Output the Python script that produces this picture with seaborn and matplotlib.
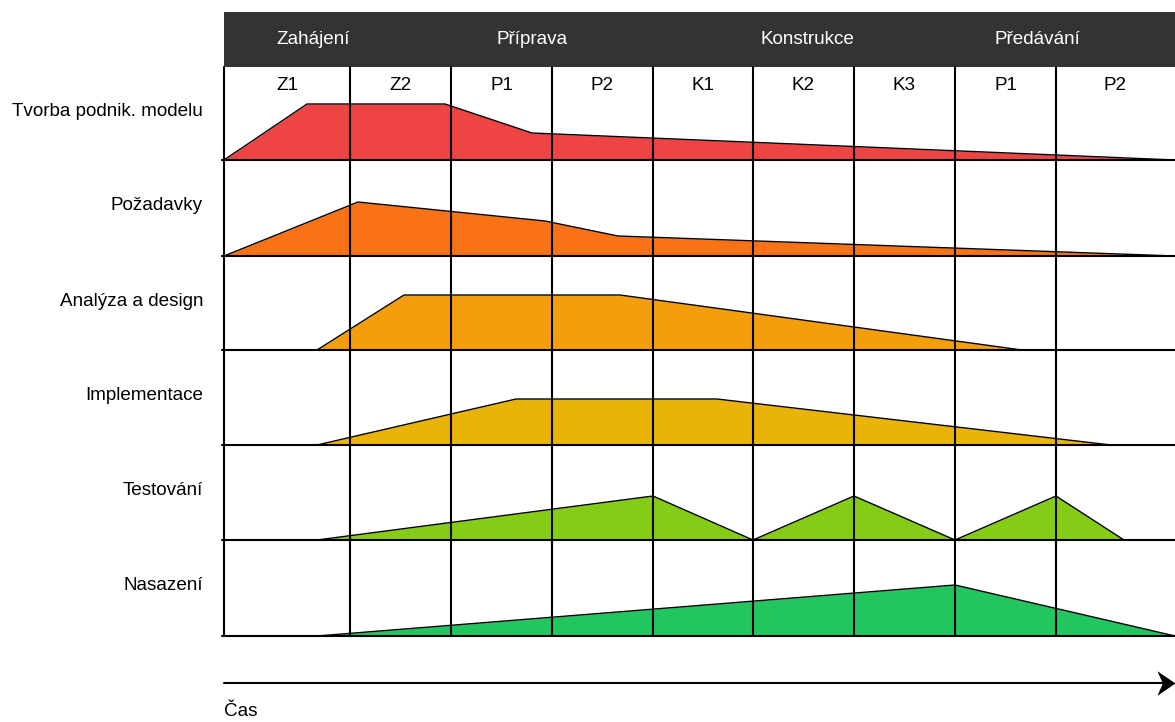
import matplotlib
matplotlib.use("Agg")
import matplotlib.pyplot as plt
from matplotlib.path import Path
import numpy as np
import pandas as pd
import seaborn as sns

# phases in the dark header bar and their label positions
phases = ["Zahájení", "Příprava", "Konstrukce", "Předávání"]
phase_x = [313, 532, 807, 1037]

# iterations (columns) and column edges
iterations = ["Z1", "Z2", "P1", "P2", "K1", "K2", "K3", "P1", "P2"]
col_edges = [224, 350, 451, 552, 653, 753, 854, 955, 1056, 1175]

# disciplines (rows) and row boundaries
disciplines = ["Tvorba podnik. modelu", "Požadavky", "Analýza a design",
               "Implementace", "Testování", "Nasazení"]
row_edges = [67, 160, 256, 350, 445, 540, 636]
colors = ["#EF4444", "#F97316", "#F59E0B", "#EAB308", "#84CC16", "#22C55E"]

# effort profile for every discipline: time points and height above the row baseline
model_t = [224, 307, 445, 532, 1175]
model_h = [0, 56, 56, 27, 0]
req_t = [224, 358, 545, 618, 1175]
req_h = [0, 54, 35, 20, 0]
design_t = [224, 317, 404, 620, 1022]
design_h = [0, 0, 55, 55, 0]
impl_t = [224, 317, 516, 717, 1111]
impl_h = [0, 0, 46, 46, 0]
test_t = [224, 317, 653, 753, 854, 955, 1056, 1124]
test_h = [0, 0, 44, 0, 44, 0, 44, 0]
deploy_t = [224, 317, 955, 1175]
deploy_h = [0, 0, 51, 0]

profiles = [(model_t, model_h), (req_t, req_h), (design_t, design_h),
            (impl_t, impl_h), (test_t, test_h), (deploy_t, deploy_h)]

sns.set_theme(style="white")
plt.rcParams["font.family"] = ["Liberation Sans", "DejaVu Sans"]
fs = 13.6

fig = plt.figure(figsize=(11.75, 7.22), dpi=100)
ax = fig.add_axes([0, 0, 1, 1])
ax.set_xlim(0, 1175)
ax.set_ylim(722, 0)
ax.axis("off")

# header bar
ax.fill_between([col_edges[0], col_edges[-1]], 12, row_edges[0], color="#333333", lw=0)
for name, x in zip(phases, phase_x):
    ax.text(x, 40, name, color="white", fontsize=fs, ha="center", va="center")

for i, name in enumerate(iterations):
    ax.text((col_edges[i] + col_edges[i + 1]) / 2, 86, name, fontsize=fs,
            ha="center", va="center", color="black")

# humps
for i, (t, h) in enumerate(profiles):
    base = row_edges[i + 1]
    y = [base - v for v in h]
    ax.fill_between(t, y, base, color=colors[i], lw=0, zorder=2)
    df = pd.DataFrame({"t": t, "y": y})
    sns.lineplot(data=df, x="t", y="y", ax=ax, color="black", lw=1.0,
                 sort=False, estimator=None, zorder=3)
    ax.text(203, (row_edges[i] + row_edges[i + 1]) / 2 - 2, disciplines[i],
            fontsize=fs, ha="right", va="center", color="black")

# grid
for x in col_edges[:-1]:
    ax.plot([x, x], [row_edges[0], row_edges[-1]], color="black", lw=1.5, zorder=4)
for y in row_edges[1:]:
    ax.plot([col_edges[0] - 2, col_edges[-1]], [y, y], color="black", lw=1.5, zorder=4)

# time arrow with a stealth head
stealth = Path([(0, 0), (-1, 0.68), (-0.7, 0), (-1, -0.68), (0, 0)],
               [Path.MOVETO, Path.LINETO, Path.LINETO, Path.LINETO, Path.CLOSEPOLY])
ax.plot([col_edges[0], col_edges[-1] - 8], [683, 683], color="black", lw=1.5)
ax.plot([col_edges[-1]], [683], marker=stealth, markersize=26, color="black",
        markeredgewidth=0, clip_on=False)
ax.text(224, 712, "Čas", fontsize=fs, ha="left", va="center", color="black")

fig.savefig("out.png", dpi=100)
